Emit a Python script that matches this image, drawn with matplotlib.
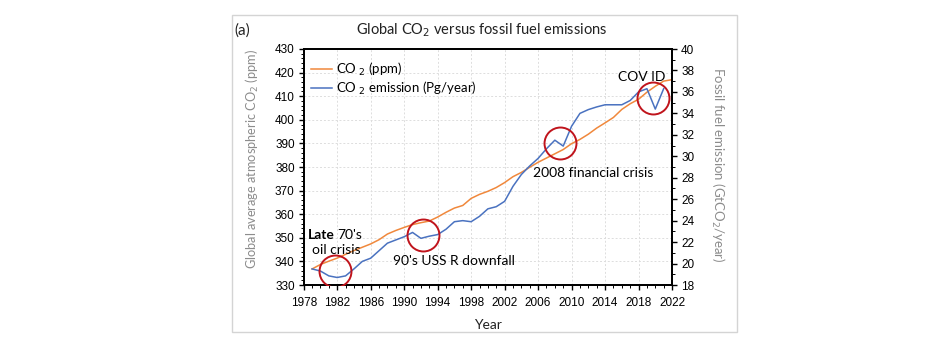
import matplotlib
matplotlib.use("Agg")
import matplotlib.pyplot as plt
from matplotlib.patches import Rectangle
from matplotlib.ticker import MultipleLocator

# ---------------- data ----------------
co2_years = list(range(1979, 2023))
co2_ppm = [336.8, 338.7, 340.1, 341.4, 343.0, 344.6, 346.0, 347.4, 349.2, 351.6,
           353.1, 354.4, 355.6, 356.4, 357.1, 358.8, 360.8, 362.6, 363.7, 366.7,
           368.4, 369.7, 371.3, 373.4, 375.9, 377.7, 379.9, 382.0, 383.8, 385.6,
           387.4, 389.9, 391.7, 393.9, 396.5, 398.7, 401.0, 404.4, 406.8, 408.7,
           411.7, 414.2, 416.4, 417.0]

em_years = list(range(1979, 2022))
emission = [19.5, 19.3, 18.85, 18.7, 18.85, 19.5, 20.2, 20.5, 21.2, 21.9,
            22.2, 22.5, 22.9, 22.35, 22.55, 22.7, 23.2, 23.9, 24.0, 23.9,
            24.4, 25.1, 25.3, 25.8, 27.2, 28.3, 29.1, 29.8, 30.7, 31.5,
            30.95, 32.8, 34.0, 34.35, 34.6, 34.8, 34.8, 34.8, 35.2, 36.0,
            36.3, 34.4, 36.3]

event_years = [1981.7, 1992.3, 2008.6, 2019.75]
event_values = [19.3, 22.7, 31.25, 35.4]

x_ticks = list(range(1978, 2023, 4))
left_ticks = list(range(330, 431, 10))
right_ticks = list(range(18, 41, 2))

# ---------------- style ----------------
ORANGE = "#F0883C"
BLUE = "#4A72C0"
RED = "#C0141C"
GRAY = "#8C8C8C"
MAIN = ["Lato", "DejaVu Sans"]
NARROW = ["Liberation Sans", "DejaVu Sans"]

plt.rcParams["font.family"] = MAIN

fig = plt.figure(figsize=(9.5, 3.5), dpi=100)
fig.patches.append(Rectangle((0.2447, 0.0514), 0.531, 0.906, transform=fig.transFigure,
                             fill=False, edgecolor="#D4D4D4", linewidth=1.0))

ax = fig.add_axes([0.3197, 0.1857, 0.3877, 0.6743])
ax2 = ax.twinx()

l1, = ax.plot(co2_years, co2_ppm, color=ORANGE, lw=1.1, label="CO$_{\\ 2}$ (ppm)")
l2, = ax2.plot(em_years, emission, color=BLUE, lw=1.1, label="CO$_{\\ 2}$ emission (Pg/year)")

# highlight circles
ax2.plot(event_years, event_values, linestyle="none", marker="o", markersize=23,
         markerfacecolor="none", markeredgecolor=RED, markeredgewidth=1.4, zorder=5)

ax.set_xlim(1978, 2022)
ax.set_ylim(330, 430)
ax2.set_ylim(18, 40)

ax.set_xticks(x_ticks)
ax.set_yticks(left_ticks)
ax2.set_yticks(right_ticks)
ax.xaxis.set_minor_locator(MultipleLocator(1))
ax.yaxis.set_minor_locator(MultipleLocator(2))
ax2.yaxis.set_minor_locator(MultipleLocator(1))

for a in (ax, ax2):
    for s in a.spines.values():
        s.set_linewidth(1.3)
        s.set_color("black")
    a.tick_params(which="major", length=3.5, width=1.0, labelsize=8.5, pad=3)
    a.tick_params(which="minor", length=2, width=0.7)
    for lab in a.get_xticklabels() + a.get_yticklabels():
        lab.set_family(NARROW)
ax.tick_params(axis="x", pad=5)

ax.grid(True, which="major", linestyle=(0, (2, 2)), color="#DDDDDD", linewidth=0.7)
ax.set_axisbelow(True)

ax.set_xlabel("Year", fontsize=10, labelpad=7, color="#222222")
ax.set_ylabel("Global average atmospheric CO$_2$ (ppm)", fontsize=9.2, color=GRAY,
              va="center")
ax.yaxis.set_label_coords(-0.139, 0.535)
ax2.set_ylabel("Fossil fuel emission (GtCO$_2$/year)", fontsize=9.5, color=GRAY,
               rotation=270, va="center")
ax2.yaxis.set_label_coords(1.124, 0.51)

fig.text(0.507, 0.914, "Global CO$_2$ versus fossil fuel emissions", ha="center", va="center",
         fontsize=10.5, color="#222222")
fig.text(0.2545, 0.914, "(a)", ha="center", va="center", fontsize=11, color="#222222")

leg = ax.legend(handles=[l1, l2], loc="upper left", frameon=False, fontsize=9.5,
                handlelength=1.6, handletextpad=0.3, labelspacing=0.12,
                bbox_to_anchor=(-0.012, 1.0))

# annotations
t_late = ax2.text(1978.55, 22.66, "Late", fontsize=10, fontweight="bold", ha="left", va="center")
ax2.annotate("70's", xy=(1.0, 0.5), xycoords=t_late, xytext=(1.5, 0),
             textcoords="offset points", fontsize=10, ha="left", va="center")
ax2.text(1979.0, 21.26, "oil crisis", fontsize=10, ha="left", va="center")
ax2.text(1988.7, 20.24, "90's USS R downfall", fontsize=10, ha="left", va="center")
ax2.text(2005.4, 28.4, "2008 financial crisis", fontsize=10, ha="left", va="center")
ax2.text(2015.5, 37.4, "COV ID", fontsize=10, ha="left", va="center")

fig.savefig("out.png", dpi=100)
